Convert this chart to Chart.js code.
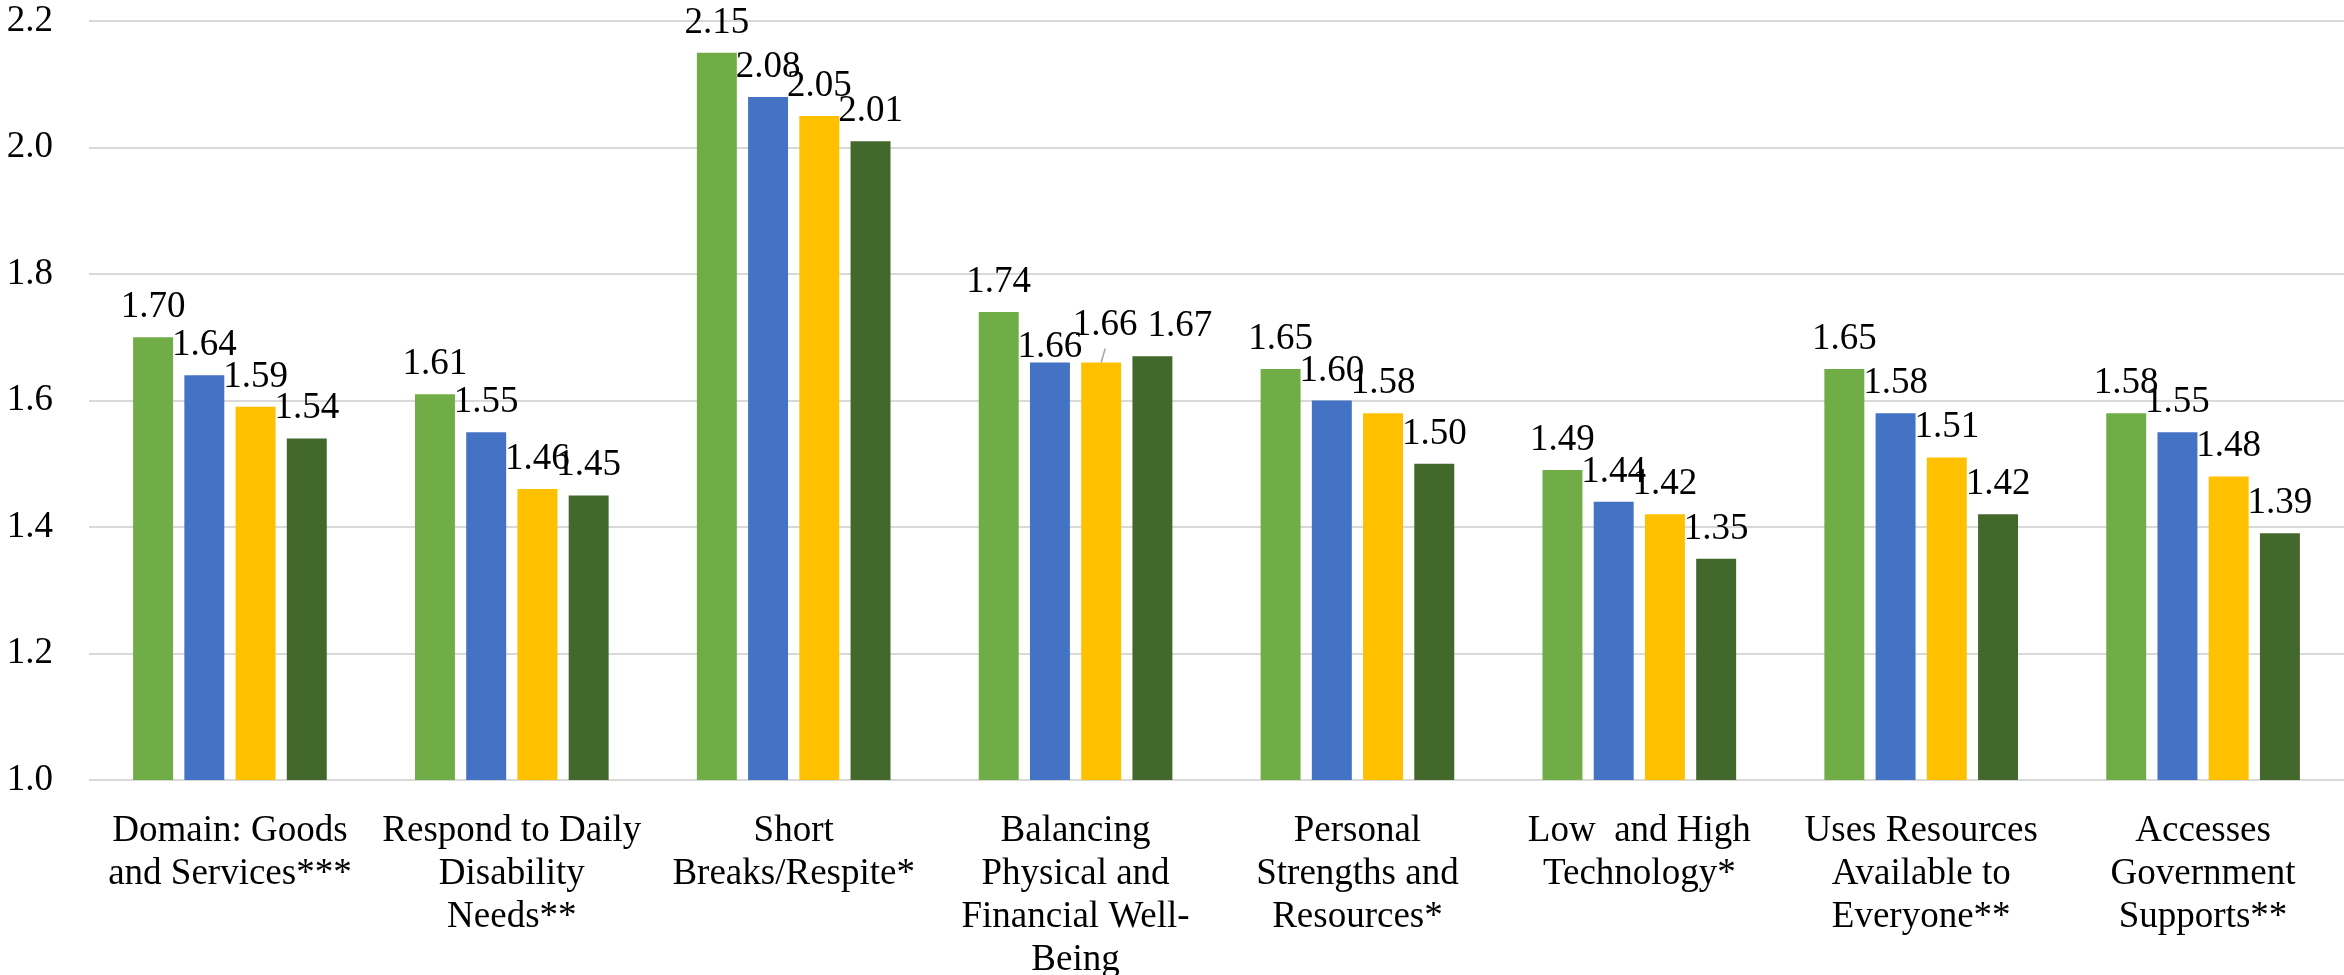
<!DOCTYPE html>
<html>
<head>
<meta charset="utf-8">
<script src="https://cdn.jsdelivr.net/npm/chart.js@4.4.1/dist/chart.umd.min.js"></script>
<style>
  html, body { margin: 0; padding: 0; background: #ffffff; overflow: hidden; }
  #wrap { width: 2344px; height: 975px; }
</style>
</head>
<body>
<div id="wrap"><canvas id="chart" width="2344" height="975"></canvas></div>
<script>
// Domain categories (multi-line axis labels)
const categories = [
  ["Domain: Goods", "and Services***"],
  ["Respond to Daily", "Disability", "Needs**"],
  ["Short", "Breaks/Respite*"],
  ["Balancing", "Physical and", "Financial Well-", "Being"],
  ["Personal", "Strengths and", "Resources*"],
  ["Low  and High", "Technology*"],
  ["Uses Resources", "Available to", "Everyone**"],
  ["Accesses", "Government", "Supports**"]
];

// Mean scores per group
const seriesA = [1.70, 1.61, 2.15, 1.74, 1.65, 1.49, 1.65, 1.58];
const seriesB = [1.64, 1.55, 2.08, 1.66, 1.60, 1.44, 1.58, 1.55];
const seriesC = [1.59, 1.46, 2.05, 1.66, 1.58, 1.42, 1.51, 1.48];
const seriesD = [1.54, 1.45, 2.01, 1.67, 1.50, 1.35, 1.42, 1.39];

// Value axis
const yMin = 1.0;
const yMax = 2.2;
const yStep = 0.2;

const seriesColors = ["#70AD47", "#4472C4", "#FFC000", "#43682B"];
const FONT = "'Liberation Serif', 'Times New Roman', serif";

// Draws the value above each bar. When two neighbouring labels would sit at
// the same height, the second is lifted and tied to its bar by a leader line,
// and a label that would then run into the lifted one is moved aside.
const valueLabels = {
  id: "valueLabels",
  afterDatasetsDraw(chart) {
    const ctx = chart.ctx;
    ctx.save();
    ctx.font = "37px " + FONT;
    ctx.fillStyle = "#000000";
    ctx.textAlign = "center";
    ctx.textBaseline = "alphabetic";
    const textH = 26;
    const n = chart.data.labels.length;
    const count = chart.data.datasets.length;
    for (let i = 0; i < n; i++) {
      const items = [];
      for (let d = 0; d < count; d++) {
        const bar = chart.getDatasetMeta(d).data[i];
        const v = chart.data.datasets[d].data[i];
        const text = v.toFixed(2);
        items.push({
          x: bar.x, top: bar.y, base: bar.y - 20, dx: 0, dy: 0,
          text, w: ctx.measureText(text).width, leader: false
        });
      }
      for (let d = 1; d < count; d++) {
        const prev = items[d - 1], cur = items[d];
        const overlapX = (prev.x + prev.w / 2) > (cur.x - cur.w / 2);
        if (overlapX && Math.abs(prev.base - cur.base) < 3 && !prev.leader) {
          prev.dy = 14;
          cur.dy = -8;
          cur.dx = 4;
          cur.leader = true;
        }
      }
      for (let d = 1; d < count; d++) {
        const prev = items[d - 1], cur = items[d];
        if (!prev.leader) continue;
        const prevRight = prev.x + prev.dx + prev.w / 2;
        const curLeft = cur.x + cur.dx - cur.w / 2;
        const vGap = Math.abs((prev.base + prev.dy) - (cur.base + cur.dy));
        if (prevRight > curLeft && vGap < textH) {
          cur.dx += (prevRight - curLeft) + 10;
        }
      }
      items.forEach(it => {
        const y = it.base + it.dy;
        ctx.fillText(it.text, it.x + it.dx, y);
        if (it.leader) {
          ctx.strokeStyle = "#a6a6a6";
          ctx.lineWidth = 1.5;
          ctx.beginPath();
          ctx.moveTo(it.x + it.dx, y + 14);
          ctx.lineTo(it.x, it.top);
          ctx.stroke();
        }
      });
    }
    ctx.restore();
  }
};

const names = ["Series 1", "Series 2", "Series 3", "Series 4"];
const values = [seriesA, seriesB, seriesC, seriesD];

new Chart(document.getElementById("chart"), {
  type: "bar",
  data: {
    labels: categories,
    datasets: values.map((vals, k) => ({
      label: names[k],
      data: vals,
      backgroundColor: seriesColors[k],
      borderWidth: 0,
      categoryPercentage: 0.727,
      barPercentage: 0.78
    }))
  },
  options: {
    responsive: false,
    devicePixelRatio: 1,
    animation: false,
    layout: { padding: { top: 0, right: 0, bottom: 0, left: 0 } },
    plugins: {
      legend: { display: false },
      tooltip: { enabled: false },
      title: { display: false }
    },
    scales: {
      x: {
        grid: { display: false, drawTicks: false },
        border: { display: false },
        ticks: {
          autoSkip: false,
          maxRotation: 0,
          minRotation: 0,
          padding: 30,
          color: "#000000",
          font: { family: FONT, size: 37, lineHeight: 1.162 }
        },
        afterFit(scale) { scale.height = 195; }
      },
      y: {
        min: yMin,
        max: yMax,
        grid: { color: "#d9d9d9", lineWidth: 2, drawTicks: false },
        border: { display: false },
        ticks: {
          stepSize: yStep,
          padding: 36,
          color: "#000000",
          font: { family: FONT, size: 37, lineHeight: 1.13 },
          callback: v => Number(v).toFixed(1)
        },
        afterFit(scale) {
          scale.width = 89;
          scale.paddingTop = 21;
          scale.paddingBottom = 0;
        }
      }
    }
  },
  plugins: [valueLabels]
});
</script>
</body>
</html>
